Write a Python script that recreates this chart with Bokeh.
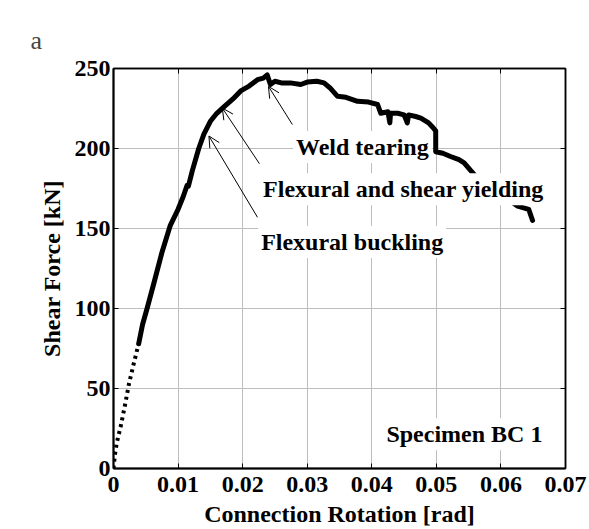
from bokeh.plotting import figure
from bokeh.models import LinearAxis, Range1d, Label, Arrow, OpenHead, Title, FixedTicker
from bokeh.embed import file_html
from bokeh.resources import INLINE

# ---- data ----
rot_initial = [0.0, 0.0001, 0.0002, 0.0005, 0.0011, 0.0018, 0.0024, 0.0031, 0.0039]
force_initial = [0, 4, 8, 16, 26, 40, 53, 65, 78]

rot = [0.0039, 0.0045, 0.0052, 0.0062, 0.0075, 0.0088, 0.0100, 0.0108, 0.0114, 0.0116,
       0.0122, 0.0132, 0.0140, 0.0150, 0.0160, 0.0171, 0.0185, 0.0197, 0.0210, 0.0223,
       0.0232, 0.0238, 0.0243, 0.0250, 0.0260, 0.0274, 0.0290, 0.0300, 0.0315, 0.0326,
       0.0335, 0.0347, 0.0360, 0.0378, 0.0395, 0.0409, 0.0414, 0.0425, 0.0428, 0.0429,
       0.0431, 0.0440, 0.0450, 0.0455, 0.0457, 0.0468, 0.0476, 0.0488, 0.0495, 0.0499,
       0.0499, 0.0510, 0.0522, 0.0535, 0.0543, 0.0560, 0.0580, 0.0603, 0.0615, 0.0626,
       0.0643, 0.0649]
force = [78, 90, 100, 115, 135, 152, 162, 170, 177, 176.5,
         186, 200, 209, 217, 222, 226, 231, 236, 239, 243,
         244, 246, 240, 242, 241, 241, 240, 241.5, 242, 241,
         238, 232.6, 232, 229.5, 229, 227.5, 222, 223, 216, 222,
         222, 222, 221, 216, 221, 220, 219, 216, 213, 211,
         198, 197, 195, 193, 191, 183, 176, 169.5, 167, 164,
         162, 155]

x_ticks = [0, 0.01, 0.02, 0.03, 0.04, 0.05, 0.06, 0.07]
x_tick_labels = ["0", "0.01", "0.02", "0.03", "0.04", "0.05", "0.06", "0.07"]
y_ticks = [0, 50, 100, 150, 200, 250]

# annotations: (text, text x, text baseline y, arrow tail x, tail y, head x, head y)
notes = [
    ("Weld tearing", 0.0278, 201, 0.0277, 215, 0.0240, 238.8),
    ("Flexural and shear yielding", 0.0227, 174.5, 0.0226, 190.5, 0.01685, 225.3),
    ("Flexural buckling", 0.0224, 141.5, 0.0223, 157, 0.01478, 207.8),
]
specimen = ("Specimen BC 1", 0.0418, 21.4)

FONT = "Liberation Serif"
FS = "24px"

p = figure(width=589, height=529, x_range=Range1d(0, 0.07), y_range=Range1d(0, 250),
           output_backend="svg", toolbar_location=None, title=None,
           min_border_left=113, min_border_right=24, min_border_top=68, min_border_bottom=60,
           background_fill_color="white", border_fill_color="white")

p.outline_line_color = "black"
p.outline_line_width = 1.5

# grid
p.xgrid.ticker = FixedTicker(ticks=x_ticks)
p.ygrid.ticker = FixedTicker(ticks=y_ticks)
for g in (p.xgrid[0], p.ygrid[0]):
    g.grid_line_color = "#bdbdbd"
    g.grid_line_width = 1

# bottom / left axes
xa = p.xaxis[0]
xa.ticker = FixedTicker(ticks=x_ticks)
xa.major_label_overrides = {t: l for t, l in zip(x_ticks, x_tick_labels)}
ya = p.yaxis[0]
ya.ticker = FixedTicker(ticks=y_ticks)
xa.axis_label = "Connection Rotation [rad]"
ya.axis_label = "Shear Force [kN]"
for ax in (xa, ya):
    ax.axis_line_color = "black"
    ax.axis_line_width = 2
    ax.major_tick_in = 5
    ax.major_tick_out = 0
    ax.major_tick_line_color = "black"
    ax.minor_tick_line_color = None
    ax.major_label_text_font = FONT
    ax.major_label_text_font_style = "bold"
    ax.major_label_text_font_size = FS
    ax.major_label_text_color = "black"
    ax.axis_label_text_font = FONT
    ax.axis_label_text_font_style = "bold"
    ax.axis_label_text_font_size = FS
    ax.axis_label_text_color = "black"
xa.major_label_standoff = 8
xa.axis_label_standoff = 6
ya.major_label_standoff = 3
ya.axis_label_standoff = 7

# top / right axes (ticks only)
top = LinearAxis(ticker=FixedTicker(ticks=x_ticks), major_label_text_font_size="0px",
                 major_tick_in=5, major_tick_out=0, minor_tick_line_color=None,
                 axis_line_width=1.5, major_label_standoff=0)
right = LinearAxis(ticker=FixedTicker(ticks=y_ticks), major_label_text_font_size="0px",
                   major_tick_in=5, major_tick_out=0, minor_tick_line_color=None,
                   axis_line_width=1.5, major_label_standoff=0)
p.add_layout(top, "above")
p.add_layout(right, "right")

# panel letter (as a title so it may sit outside the frame)
p.add_layout(Title(text="a\n ", text_font=FONT, text_font_style="normal",
                   text_font_size="26px", text_line_height=0.3,
                   align="left", offset=-83), "above")

# curves
p.line(rot_initial, force_initial, line_color="black", line_width=4, line_dash="3 4")
p.line(rot, force, line_color="black", line_width=5, line_join="round", line_cap="round")

# annotation arrows and labels
for text, tx, ty, xs, ys, xe, ye in notes:
    p.add_layout(Arrow(end=OpenHead(size=11, line_width=1, line_color="black"),
                       x_start=xs, y_start=ys, x_end=xe, y_end=ye,
                       line_width=1, line_color="black"))
for text, tx, ty, *_ in notes:
    p.add_layout(Label(x=tx, y=ty, text=text, text_font=FONT, text_font_style="bold",
                       text_font_size=FS, text_color="black", text_baseline="alphabetic",
                       background_fill_color="white", padding=3))
p.add_layout(Label(x=specimen[1], y=specimen[2], text=specimen[0], text_font=FONT,
                   text_font_style="bold", text_font_size=FS, text_color="black",
                   text_baseline="alphabetic", background_fill_color="white", padding=3))

open("out.html", "w").write(file_html(p, INLINE))
